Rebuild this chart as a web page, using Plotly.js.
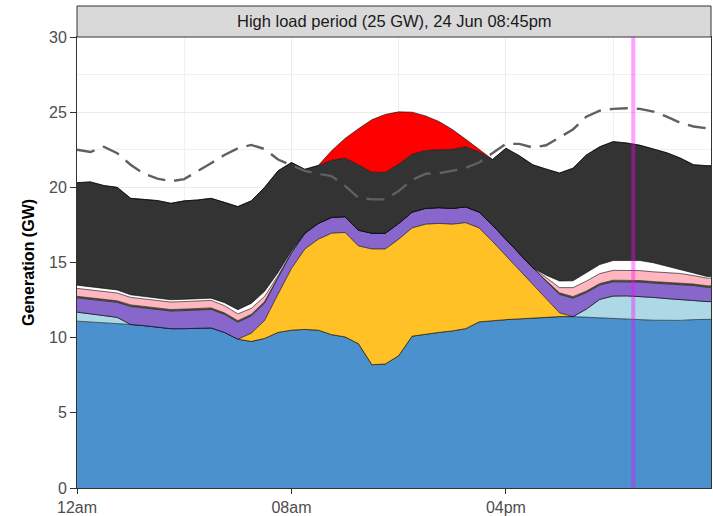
<!DOCTYPE html>
<html>
<head>
<meta charset="utf-8">
<script src="https://cdn.plot.ly/plotly-3.0.1.min.js"></script>
<style>
html,body{margin:0;padding:0;background:#fff;}
#chart{width:713px;height:516px;}
</style>
</head>
<body>
<div id="chart"></div>
<script>
// Time of day in hours (half-hourly)
const hours = [0,0.5,1,1.5,2,2.5,3,3.5,4,4.5,5,5.5,6,6.5,7,7.5,8,8.5,9,9.5,10,10.5,11,11.5,12,12.5,13,13.5,14,14.5,15,15.5,16,16.5,17,17.5,18,18.5,19,19.5,20,20.5,21,21.5,22,22.5,23,23.5,23.75];

// Generation by source (GW), stacked bottom to top
const blue = [11.1,11.05,11.0,10.95,10.88,10.8,10.68,10.6,10.6,10.63,10.65,10.35,9.9,9.75,9.95,10.35,10.5,10.55,10.5,10.2,10.05,9.6,8.2,8.25,8.8,10.1,10.25,10.35,10.45,10.6,11.05,11.15,11.2,11.25,11.3,11.35,11.4,11.4,11.35,11.3,11.27,11.23,11.2,11.16,11.13,11.15,11.2,11.22,11.22];
const lightblue = [0.6,0.55,0.47,0.4,0,0,0,0,0,0,0,0,0,0,0,0,0,0,0,0,0,0,0,0,0,0,0,0,0,0,0,0,0,0,0,0,0,0,0.55,1.25,1.5,1.55,1.55,1.52,1.47,1.4,1.27,1.18,1.18];
const solar = [0,0,0,0,0,0,0,0,0,0,0,0,0,0.55,1.2,2.55,4.1,5.35,6.05,6.75,6.95,6.5,7.7,7.65,7.75,7.2,7.3,7.25,7.1,7.05,6.25,5.25,4.25,3.25,2.25,1.25,0.25,0,0,0,0,0,0,0,0,0,0,0,0];
const purple = [0.95,0.95,0.97,1.0,1.2,1.18,1.17,1.17,1.2,1.22,1.23,1.2,1.13,1.15,1.15,1.1,1.05,1.05,1.05,1.05,1.05,1.05,1.05,1.05,1.05,1.05,1.05,1.05,1.05,1.05,1.05,1.08,1.1,1.1,1.1,1.15,1.23,1.23,1.1,0.95,0.95,0.93,0.95,0.95,0.98,1.0,1.0,0.95,0.95];
const green = [0.1,0.1,0.1,0.1,0.1,0.1,0.1,0.1,0.1,0.1,0.1,0.1,0.1,0.1,0.1,0.03,0,0,0,0,0,0,0,0,0,0,0,0,0,0,0,0,0,0,0,0.05,0.1,0.1,0.1,0.1,0.1,0.1,0.1,0.1,0.1,0.1,0.1,0.1,0.1];
const pink = [0.53,0.52,0.52,0.52,0.5,0.5,0.5,0.5,0.5,0.5,0.5,0.48,0.45,0.4,0.35,0.1,0,0,0,0,0,0,0,0,0,0,0,0,0,0,0,0,0,0,0,0.2,0.35,0.6,0.66,0.66,0.66,0.66,0.66,0.65,0.63,0.62,0.56,0.51,0.51];
const white = [0.21,0.2,0.2,0.2,0.17,0.15,0.15,0.15,0.15,0.15,0.15,0.2,0.28,0.33,0.33,0.2,0.1,0,0,0,0,0,0,0,0,0,0,0,0,0,0,0,0,0,0,0.15,0.44,0.45,0.55,0.6,0.65,0.67,0.67,0.6,0.45,0.3,0.17,0.11,0.11];
const darkgrey = [6.82,6.99,6.86,6.83,6.42,6.48,6.52,6.42,6.55,6.56,6.64,6.67,6.86,6.82,6.92,6.77,5.9,4.25,3.85,3.8,3.9,4.35,4.05,4.05,3.95,3.85,3.85,3.85,3.93,4.0,4.0,4.37,6.05,6.5,6.85,7.05,7.18,7.49,7.84,7.84,7.91,7.81,7.67,7.57,7.54,7.38,7.2,7.37,7.37];
const red = [0,0,0,0,0,0,0,0,0,0,0,0,0,0,0,0,0,0,0,0.64,1.3,2.4,3.5,3.85,3.47,2.8,2.3,1.88,1.32,0.5,0.15,0,0,0,0,0,0,0,0,0,0,0,0,0,0,0,0,0,0];
// Demand (dashed line)
const demand = [22.5,22.35,22.7,22.27,21.5,20.9,20.58,20.4,20.55,21.05,21.6,22.15,22.6,22.82,22.55,21.85,21.45,21.1,20.9,20.75,20.1,19.3,19.2,19.2,19.75,20.5,20.9,20.94,21.1,21.3,21.65,22.3,22.89,22.89,22.65,22.8,23.3,23.85,24.7,25.1,25.22,25.26,25.22,25.04,24.7,24.3,24.05,23.9,23.87];

const markerHour = 20.75;
const tickVals = [0,8,16];
const tickText = ["12am","08am","04pm"];
const minorTickVals = [4,12,20];
const stripTitle = "High load period (25 GW), 24 Jun 08:45pm";
const yTitle = "Generation (GW)";

const layers = [
  [blue, "#4B91CD"],
  [lightblue, "#ADD8E6"],
  [solar, "#FFC125"],
  [purple, "#8966CC"],
  [green, "#556B2F"],
  [pink, "#FFB6C1"],
  [white, "#FFFFFF"],
  [darkgrey, "#333333"],
  [red, "#FF0000"]
];

const traces = layers.map(([vals, col]) => ({
  x: hours, y: vals, type: "scatter", mode: "lines",
  stackgroup: "gen", fill: "tonexty", fillcolor: col,
  line: {color: "#000000", width: 0.6},
  hoverinfo: "skip", showlegend: false
}));

traces.push({
  x: hours, y: demand, type: "scatter", mode: "lines",
  line: {color: "#606060", width: 2.4, dash: "18px,9px"},
  hoverinfo: "skip", showlegend: false
});

const plotH = 516 - 37 - 28;
const fam = "Liberation Sans, Arial, sans-serif";

const layout = {
  width: 713, height: 516,
  margin: {l: 77, r: 2, t: 37, b: 28},
  paper_bgcolor: "#FFFFFF", plot_bgcolor: "#FFFFFF",
  font: {family: fam, color: "#4D4D4D"},
  showlegend: false,
  xaxis: {
    range: [0, 23.65], tickvals: tickVals, ticktext: tickText,
    ticks: "outside", ticklen: 5, tickcolor: "#333333", tickwidth: 1,
    tickfont: {size: 16, color: "#4D4D4D"},
    showgrid: true, gridcolor: "#EBEBEB", gridwidth: 1,
    minor: {tickvals: minorTickVals, showgrid: true, gridcolor: "#F0F0F0", gridwidth: 1, ticks: ""},
    showline: true, linecolor: "#333333", linewidth: 1, mirror: true,
    zeroline: false, layer: "above traces"
  },
  yaxis: {
    range: [0, 30], dtick: 5, tick0: 0,
    ticks: "outside", ticklen: 6, tickcolor: "#333333", tickwidth: 1,
    tickfont: {size: 16, color: "#4D4D4D"},
    showgrid: true, gridcolor: "#EBEBEB", gridwidth: 1,
    minor: {dtick: 2.5, showgrid: true, gridcolor: "#F0F0F0", gridwidth: 1, ticks: ""},
    showline: true, linecolor: "#333333", linewidth: 1, mirror: true,
    zeroline: false,
    title: {text: yTitle, font: {size: 16, color: "#000000", family: fam, weight: "bold"}, standoff: 10}
  },
  shapes: [
    {type: "rect", xref: "paper", yref: "paper", x0: 0, x1: 1, y0: 1, y1: 1 + 31/plotH,
     fillcolor: "#D9D9D9", line: {color: "#333333", width: 1}, layer: "above"},
    {type: "line", xref: "x", yref: "paper", x0: markerHour, x1: markerHour, y0: 0, y1: 1,
     line: {color: "rgba(255,0,255,0.37)", width: 4}, layer: "above"}
  ],
  annotations: [
    {text: stripTitle, xref: "paper", yref: "paper", x: 0.5, y: 1 + 15.5/plotH,
     xanchor: "center", yanchor: "middle", showarrow: false,
     font: {size: 16.5, color: "#1A1A1A", family: fam}}
  ]
};

Plotly.newPlot("chart", traces, layout, {displayModeBar: false, staticPlot: true});
</script>
</body>
</html>
